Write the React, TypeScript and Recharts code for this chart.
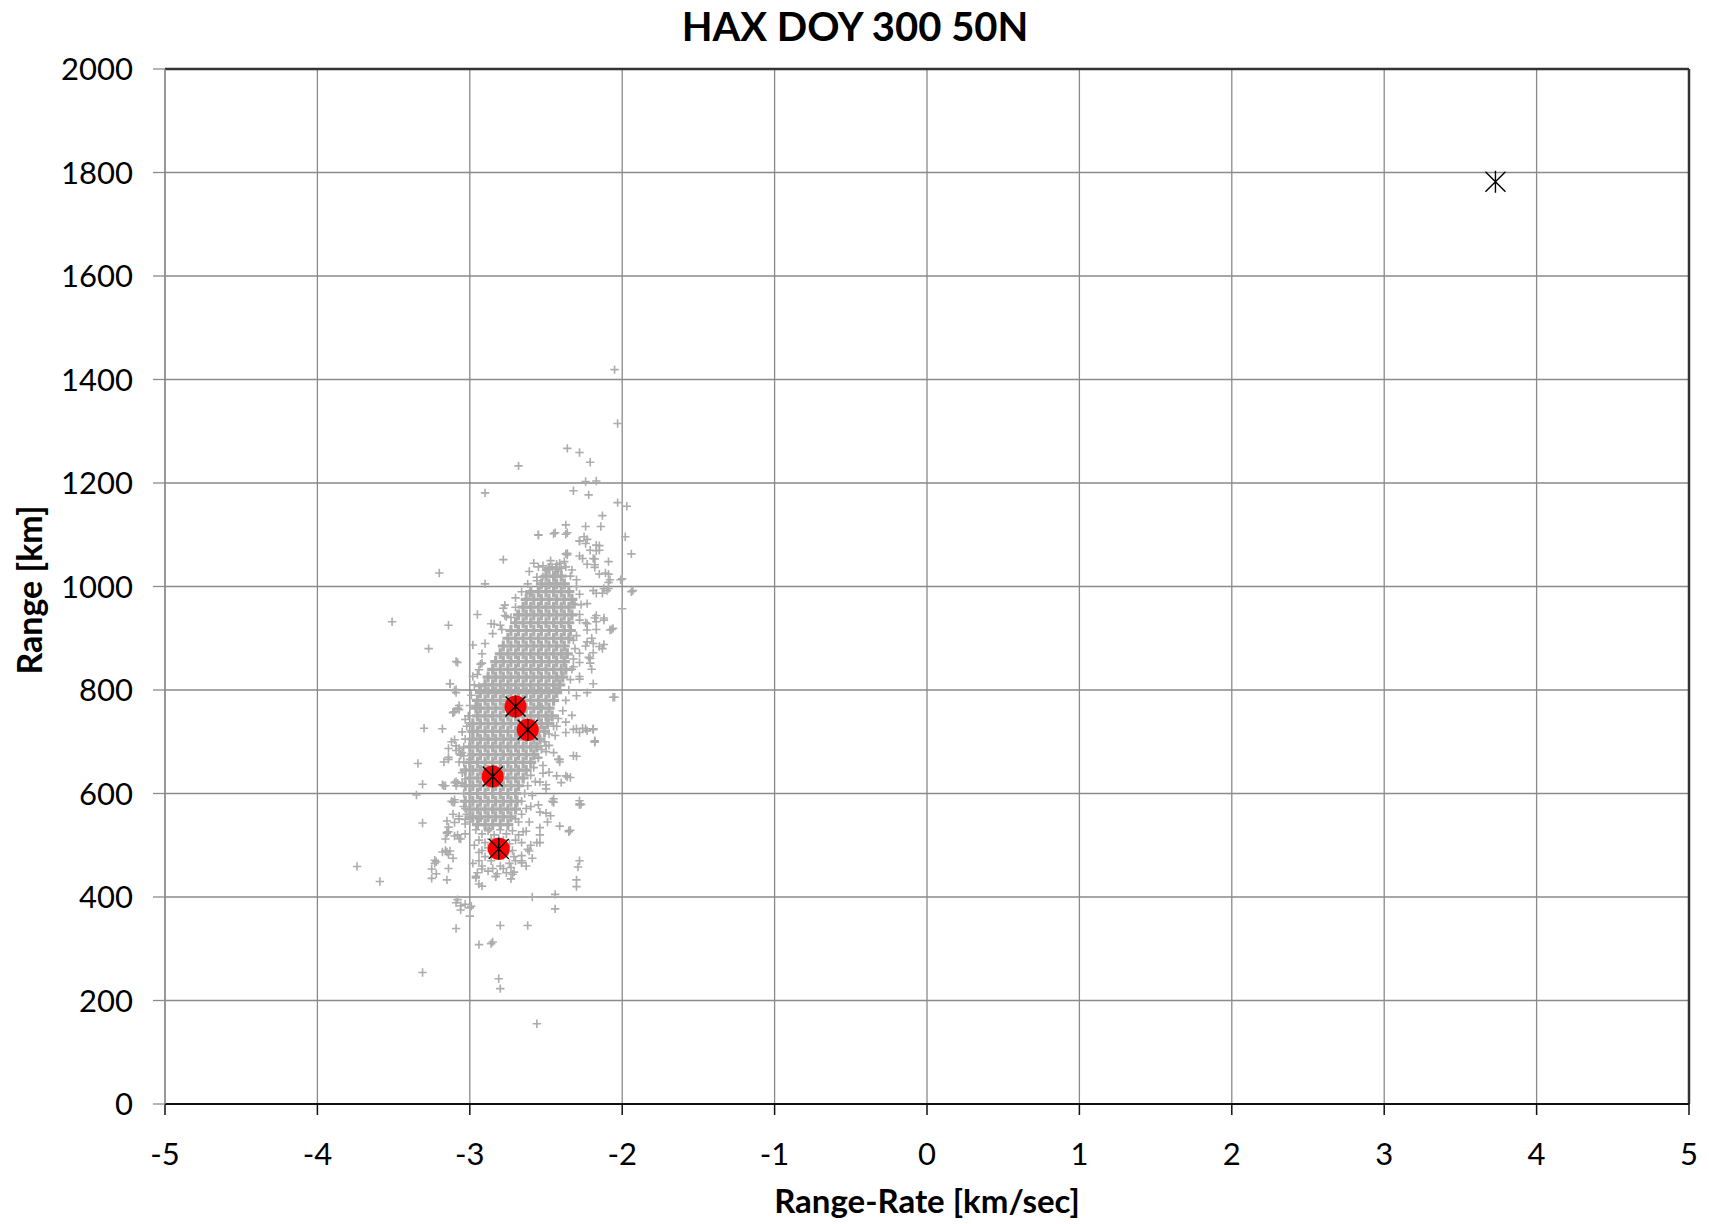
import React from 'react';
import { ScatterChart, Scatter, XAxis, YAxis, CartesianGrid, ReferenceLine } from 'recharts';

const xTicks = [-5, -4, -3, -2, -1, 0, 1, 2, 3, 4, 5];
const yTicks = [0, 200, 400, 600, 800, 1000, 1200, 1400, 1600, 1800, 2000];

// dense core of the simulated cloud: [range, rangeRate, rangeRate, ...]
const cloudRows: number[][] = [
  [1035, -2.48, -2.43],
  [1020, -2.50, -2.45, -2.40],
  [1005, -2.53, -2.48, -2.43, -2.38],
  [990, -2.60, -2.55, -2.50, -2.45, -2.40, -2.35],
  [975, -2.63, -2.58, -2.53, -2.48, -2.43, -2.38, -2.33],
  [960, -2.65, -2.60, -2.55, -2.50, -2.45, -2.40, -2.35],
  [945, -2.68, -2.63, -2.58, -2.53, -2.48, -2.43, -2.38, -2.33],
  [930, -2.70, -2.65, -2.60, -2.55, -2.50, -2.45, -2.40, -2.35],
  [915, -2.73, -2.68, -2.63, -2.58, -2.53, -2.48, -2.43, -2.38, -2.34],
  [900, -2.75, -2.70, -2.65, -2.60, -2.55, -2.50, -2.45, -2.40, -2.35],
  [885, -2.78, -2.73, -2.68, -2.63, -2.58, -2.53, -2.48, -2.43, -2.38],
  [870, -2.80, -2.75, -2.70, -2.65, -2.60, -2.55, -2.50, -2.45, -2.40, -2.36],
  [855, -2.83, -2.78, -2.73, -2.68, -2.63, -2.58, -2.53, -2.48, -2.43, -2.38],
  [840, -2.85, -2.80, -2.75, -2.70, -2.65, -2.60, -2.55, -2.50, -2.45, -2.40, -2.37],
  [825, -2.88, -2.83, -2.78, -2.73, -2.68, -2.63, -2.58, -2.53, -2.48, -2.43, -2.39],
  [810, -2.90, -2.85, -2.80, -2.75, -2.70, -2.65, -2.60, -2.55, -2.50, -2.45, -2.41],
  [795, -2.93, -2.88, -2.83, -2.78, -2.73, -2.68, -2.63, -2.58, -2.53, -2.48, -2.43],
  [780, -2.95, -2.90, -2.85, -2.80, -2.75, -2.70, -2.65, -2.60, -2.55, -2.50, -2.45],
  [765, -2.96, -2.93, -2.88, -2.83, -2.78, -2.73, -2.68, -2.63, -2.58, -2.53, -2.48],
  [750, -2.95, -2.90, -2.85, -2.80, -2.75, -2.70, -2.65, -2.60, -2.55, -2.50, -2.46],
  [735, -2.98, -2.93, -2.88, -2.83, -2.78, -2.73, -2.68, -2.63, -2.58, -2.53, -2.49],
  [720, -2.98, -2.95, -2.90, -2.85, -2.80, -2.75, -2.70, -2.65, -2.60, -2.55, -2.51],
  [705, -2.98, -2.93, -2.88, -2.83, -2.78, -2.73, -2.68, -2.63, -2.58, -2.54],
  [690, -3.00, -2.95, -2.90, -2.85, -2.80, -2.75, -2.70, -2.65, -2.60, -2.56],
  [675, -2.98, -2.93, -2.88, -2.83, -2.78, -2.73, -2.68, -2.63, -2.58],
  [660, -3.00, -2.95, -2.90, -2.85, -2.80, -2.75, -2.70, -2.65, -2.60],
  [645, -3.03, -2.98, -2.93, -2.88, -2.83, -2.78, -2.73, -2.68, -2.63],
  [630, -3.00, -2.95, -2.90, -2.85, -2.80, -2.75, -2.70, -2.65],
  [615, -3.03, -2.98, -2.93, -2.88, -2.83, -2.78, -2.73, -2.68],
  [600, -3.00, -2.95, -2.90, -2.85, -2.80, -2.75, -2.70],
  [585, -3.03, -2.98, -2.93, -2.88, -2.83, -2.78, -2.73, -2.69],
  [570, -3.00, -2.95, -2.90, -2.85, -2.80, -2.75, -2.70],
  [555, -2.98, -2.93, -2.88, -2.83, -2.78, -2.73],
  [540, -2.95, -2.90, -2.85, -2.80, -2.75],
];

// individually visible simulated points: [rangeRate, range]
const cloudPoints: number[][] = [
  [-2.05, 1419], [-2.03, 1315], [-2.36, 1267], [-2.28, 1259], [-2.21, 1240], [-2.68, 1233], [-2.24, 1203], [-2.17, 1204],
  [-2.32, 1185], [-2.22, 1177], [-2.90, 1181], [-2.03, 1162], [-1.97, 1155], [-2.13, 1137], [-2.37, 1119], [-2.24, 1116],
  [-2.14, 1116], [-2.55, 1100], [-2.44, 1104], [-2.36, 1104], [-2.28, 1088], [-2.23, 1091], [-2.15, 1079], [-1.98, 1096],
  [-1.94, 1063], [-2.36, 1064], [-2.28, 1059], [-2.26, 1054], [-2.18, 1053], [-2.18, 1037], [-2.09, 1048], [-2.78, 1052],
  [-3.20, 1026], [-2.09, 1024], [-2.09, 1008], [-2.90, 1005], [-2.00, 1015], [-1.93, 992], [-2.12, 996], [-2.09, 996],
  [-2.00, 957], [-3.51, 932], [-3.14, 925], [-3.27, 880], [-3.09, 855], [-2.95, 946], [-2.06, 919], [-2.12, 888],
  [-2.23, 928], [-2.17, 944], [-2.17, 932], [-2.20, 900], [-2.23, 893], [-2.19, 890], [-2.21, 861], [-2.98, 887],
  [-2.94, 839], [-2.77, 964], [-2.77, 944], [-2.86, 928], [-2.80, 925], [-2.85, 909],
  [-2.55, 1099], [-2.45, 1102], [-2.37, 1101], [-2.25, 1096], [-2.24, 1083], [-2.17, 1080], [-2.15, 1070], [-2.21, 1070],
  [-2.36, 1061], [-2.41, 1045], [-2.46, 1038], [-2.37, 1038], [-2.33, 1032], [-2.30, 1013], [-2.19, 1054], [-2.18, 1042],
  [-2.11, 1026], [-2.08, 1013], [-2.01, 1013], [-1.94, 990], [-2.13, 987], [-2.17, 987], [-2.61, 1029], [-2.55, 1038],
  [-2.52, 1019], [-2.48, 1006], [-2.70, 978], [-2.78, 958], [-2.76, 942], [-2.69, 946], [-2.84, 927], [-2.79, 917],
  [-2.28, 946], [-2.24, 930], [-2.18, 939], [-2.12, 939], [-2.17, 917], [-2.07, 917], [-2.24, 885], [-2.19, 872],
  [-2.13, 880], [-2.22, 863], [-2.28, 853], [-2.20, 840], [-2.19, 812], [-2.06, 786], [-3.08, 853], [-3.13, 812],
  [-3.10, 799], [-3.07, 770], [-3.11, 757],
  [-2.33, 751], [-2.24, 725], [-2.19, 725], [-2.30, 725], [-2.18, 700], [-2.37, 738], [-2.44, 712], [-2.48, 693],
  [-2.50, 681], [-2.41, 661], [-2.36, 632], [-2.52, 639], [-2.55, 668], [-2.57, 623], [-2.50, 617], [-2.28, 578],
  [-2.46, 585], [-2.55, 578],
  [-3.18, 617], [-3.09, 623], [-3.12, 585], [-3.17, 661], [-3.14, 687], [-3.07, 687], [-3.12, 700], [-3.18, 725],
  [-3.05, 719], [-3.06, 674], [-3.07, 661],
  [-3.13, 812], [-3.09, 795], [-3.08, 765], [-3.10, 758], [-3.30, 726], [-3.10, 704], [-3.34, 658], [-3.14, 670],
  [-3.09, 683], [-3.06, 676], [-3.04, 673], [-3.31, 618], [-3.35, 597], [-3.17, 615], [-3.10, 621], [-3.08, 620],
  [-3.10, 583], [-3.31, 543], [-3.15, 547], [-3.10, 544], [-3.03, 541], [-3.15, 523], [-3.10, 518], [-3.16, 512],
  [-3.06, 512], [-3.15, 487], [-3.13, 489], [-3.23, 471], [-3.74, 459], [-3.59, 430], [-3.25, 454], [-3.14, 455],
  [-3.25, 436], [-3.15, 433], [-2.96, 437], [-2.92, 421], [-2.95, 447], [-2.92, 454], [-2.83, 439], [-2.76, 447],
  [-2.72, 444], [-2.73, 457], [-2.66, 466], [-2.61, 489], [-2.54, 505], [-2.63, 460], [-2.35, 526], [-2.28, 470],
  [-2.30, 433], [-2.27, 579], [-2.45, 583], [-2.47, 557], [-2.41, 537], [-2.59, 400], [-2.44, 405], [-2.44, 377],
  [-3.09, 389], [-3.06, 383], [-3.00, 379], [-3.00, 363], [-2.80, 345], [-2.62, 345], [-3.09, 339], [-2.94, 308],
  [-2.86, 310], [-2.85, 313], [-3.31, 254], [-2.81, 242], [-2.80, 223], [-2.56, 155], [-2.05, 786], [-2.18, 699],
  [-2.19, 724], [-2.26, 726], [-2.23, 721], [-2.30, 672], [-2.34, 631], [-2.40, 621], [-2.42, 666], [-2.23, 795],
  [-2.28, 821], [-2.30, 789],
  [-3.10, 588], [-3.11, 560], [-3.07, 556], [-3.03, 550], [-2.45, 590], [-2.28, 586], [-2.50, 562], [-2.60, 575],
  [-2.49, 545], [-2.35, 528], [-2.54, 534], [-3.14, 535], [-3.15, 525], [-3.08, 520], [-3.03, 522], [-2.63, 527],
  [-2.54, 520], [-2.56, 505], [-2.60, 500], [-3.14, 482], [-3.16, 490], [-2.97, 500], [-2.94, 486], [-2.72, 490],
  [-2.66, 480], [-2.62, 492], [-2.59, 475], [-3.23, 465], [-3.22, 445], [-2.98, 465], [-2.92, 460], [-2.96, 440],
  [-2.94, 425], [-2.83, 440], [-2.78, 455], [-2.73, 435], [-2.71, 448], [-2.66, 470], [-2.29, 458], [-2.30, 420],
  [-3.08, 395], [-3.03, 386], [-2.99, 382], [-3.06, 375],
  [-2.96, 530], [-2.92, 522], [-2.88, 528], [-2.84, 520], [-2.80, 530], [-2.76, 522], [-2.72, 528], [-2.68, 520],
  [-2.94, 510], [-2.90, 505], [-2.86, 512], [-2.82, 505], [-2.78, 510], [-2.74, 503], [-2.70, 510], [-2.66, 505],
  [-2.92, 490], [-2.88, 495], [-2.84, 488], [-2.78, 480], [-2.75, 488], [-2.71, 478], [-2.86, 470], [-2.90, 478],
  [-2.94, 470], [-2.74, 465], [-2.70, 470], [-2.85, 455], [-2.80, 460], [-2.88, 450], [-2.82, 445],
  [-2.58, 1045], [-2.52, 1040], [-2.47, 1050], [-2.42, 1030], [-2.38, 1048], [-2.34, 1020], [-2.30, 1000], [-2.28, 985],
  [-2.27, 965], [-2.56, 1018], [-2.62, 1005], [-2.44, 1018], [-2.40, 1035], [-2.66, 990], [-2.70, 960], [-2.73, 940],
  [-2.31, 965], [-2.30, 905], [-2.31, 880], [-2.32, 860], [-2.33, 840], [-2.34, 820], [-2.35, 800], [-2.37, 780],
  [-2.39, 760], [-2.42, 745], [-2.45, 730], [-2.48, 715], [-2.51, 700], [-2.53, 685], [-2.55, 670], [-2.58, 650],
  [-2.60, 635], [-2.62, 615], [-2.64, 600], [-2.66, 585], [-2.66, 560], [-2.68, 545],
  [-2.90, 890], [-2.92, 870], [-2.93, 850], [-2.95, 830], [-2.97, 810], [-2.99, 790], [-3.00, 770], [-3.01, 750],
  [-3.02, 730], [-3.03, 705], [-3.04, 690], [-3.04, 660], [-3.05, 640], [-3.05, 620], [-3.04, 600], [-3.04, 575],
  [-3.02, 560], [-3.00, 545],
  [-2.54, 769], [-2.48, 743], [-2.43, 730], [-2.37, 718], [-2.32, 724], [-2.28, 718], [-2.19, 724], [-2.18, 702],
  [-2.50, 692], [-2.45, 679], [-2.41, 666], [-2.32, 673], [-2.52, 654], [-2.48, 641], [-2.43, 634], [-2.37, 634],
  [-2.54, 622], [-2.50, 609], [-2.45, 583], [-2.28, 580], [-2.34, 529], [-2.59, 596], [-2.63, 571], [-2.54, 564],
  [-2.61, 545], [-2.65, 526], [-2.70, 551],
  [-2.32, 967], [-2.28, 935], [-2.23, 916], [-2.32, 896], [-2.28, 871], [-2.32, 845], [-2.28, 826], [-2.21, 852],
  [-2.15, 884], [-2.12, 935], [-2.08, 916], [-2.23, 967], [-2.19, 992], [-2.10, 992], [-2.15, 1024], [-2.23, 1043],
  [-2.17, 1069], [-2.28, 1088], [-2.37, 1063], [-2.43, 1043], [-2.50, 1031], [-2.56, 1011], [-2.61, 986],
  [-2.92, 852], [-2.98, 826], [-2.94, 807], [-3.09, 801], [-3.11, 756], [-3.07, 762], [-2.96, 769], [-3.03, 743],
  [-3.09, 692], [-3.05, 679], [-3.00, 666], [-3.14, 666], [-3.09, 615], [-3.16, 615], [-3.03, 628], [-3.11, 583],
  [-3.03, 571], [-3.07, 551], [-3.14, 526], [-3.07, 513], [-3.00, 551], [-3.18, 487], [-3.11, 475], [-3.22, 468],
  [-2.94, 551], [-2.87, 532], [-2.81, 513],
];

// detections (red) and observed positions (star)
const detRangeRate = [-2.70, -2.62, -2.85, -2.81];
const detRange = [768, 723, 633, 493];
const obsRangeRate = [-2.70, -2.62, -2.85, -2.81, 3.73];
const obsRange = [768, 723, 633, 493, 1782];

const coreData = cloudRows.flatMap((r) => r.slice(1).map((x) => ({ x, y: r[0] })));
const pointData = cloudPoints.map(([x, y]) => ({ x, y }));
const detData = detRangeRate.map((x, i) => ({ x, y: detRange[i] }));
const obsData = obsRangeRate.map((x, i) => ({ x, y: obsRange[i] }));

const GREY = '#acacac';
const FONT = 'Lato, "Open Sans", sans-serif';

const PlusSmall = (p: any) => {
  const { cx, cy } = p;
  if (cx == null || cy == null) return null;
  const s = 4.2;
  return <path d={`M${cx - s},${cy}H${cx + s}M${cx},${cy - s}V${cy + s}`} stroke={GREY} strokeWidth={1.6} fill="none" />;
};
const PlusCore = (p: any) => {
  const { cx, cy } = p;
  if (cx == null || cy == null) return null;
  const s = 5.5;
  return <path d={`M${cx - s},${cy}H${cx + s}M${cx},${cy - s}V${cy + s}`} stroke={GREY} strokeWidth={3.2} fill="none" />;
};
const RedDot = (p: any) => {
  const { cx, cy } = p;
  if (cx == null || cy == null) return null;
  return <circle cx={cx} cy={cy} r={11} fill="#ff0000" />;
};
const Star = (p: any) => {
  const { cx, cy } = p;
  if (cx == null || cy == null) return null;
  const d = 10;
  return (
    <path
      d={`M${cx - d},${cy - d}L${cx + d},${cy + d}M${cx - d},${cy + d}L${cx + d},${cy - d}M${cx},${cy - 11}V${cy + 11}`}
      stroke="#000"
      strokeWidth={1.4}
      fill="none"
    />
  );
};

export default function App() {
  return (
    <div style={{ position: 'absolute', left: 0, top: 0, width: 1709, height: 1224, background: '#fff' }}>
      <ScatterChart width={1709} height={1224} margin={{ top: 69, right: 20, bottom: 60, left: 0 }}>
        <CartesianGrid stroke="#8a8a8a" strokeWidth={1.3} />
        <XAxis
          type="number"
          dataKey="x"
          domain={[-5, 5]}
          ticks={xTicks}
          allowDataOverflow
          height={60}
          tickSize={11}
          tickMargin={28}
          axisLine={{ stroke: '#111', strokeWidth: 2 }}
          tickLine={{ stroke: '#111', strokeWidth: 1.5 }}
          tick={{ fill: '#000', fontSize: 31, fontFamily: FONT }}
        />
        <YAxis
          type="number"
          dataKey="y"
          domain={[0, 2000]}
          ticks={yTicks}
          allowDataOverflow
          width={165}
          tickSize={12}
          tickMargin={20}
          axisLine={{ stroke: '#8a8a8a', strokeWidth: 1.3 }}
          tickLine={{ stroke: '#8a8a8a', strokeWidth: 1.3 }}
          tick={{ fill: '#000', fontSize: 31, fontFamily: FONT }}
        />
        <ReferenceLine y={2000} stroke="#333" strokeWidth={2.5} />
        <ReferenceLine x={5} stroke="#333" strokeWidth={2.5} />
        <Scatter data={coreData} shape={PlusCore} isAnimationActive={false} />
        <Scatter data={pointData} shape={PlusSmall} isAnimationActive={false} />
        <Scatter data={detData} shape={RedDot} isAnimationActive={false} />
        <Scatter data={obsData} shape={Star} isAnimationActive={false} />
      </ScatterChart>
      <svg width={1709} height={1224} style={{ position: 'absolute', left: 0, top: 0, pointerEvents: 'none' }}>
        <text x={855} y={40.5} textAnchor="middle" fontFamily={FONT} fontWeight={700} fontSize={40} fill="#000">
          HAX DOY 300 50N
        </text>
        <text x={927} y={1213} textAnchor="middle" fontFamily={FONT} fontWeight={700} fontSize={33} fill="#000">
          Range-Rate [km/sec]
        </text>
        <text transform="translate(42,590) rotate(-90)" textAnchor="middle" fontFamily={FONT} fontWeight={700} fontSize={34} fill="#000">
          Range [km]
        </text>
      </svg>
    </div>
  );
}
